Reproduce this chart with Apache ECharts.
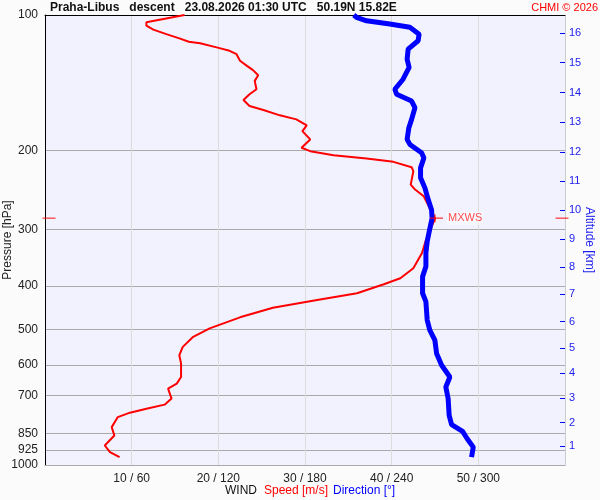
<!DOCTYPE html>
<html>
<head>
<meta charset="utf-8">
<script src="https://cdn.jsdelivr.net/npm/echarts@6/dist/echarts.min.js"></script>
<style>html,body{margin:0;padding:0;background:#fbfbfb;}#c{width:600px;height:500px;}</style>
</head>
<body>
<div id="c"></div>
<script>
// Wind speed profile (m/s) vs pressure (hPa)
var speedPressure = [100,103.8,105.6,107.8,110.3,112.7,114.7,115.6,118.0,120.1,122.2,126.4,129.7,132.6,136.1,140.1,146.2,150.0,154.5,159.3,162.6,167.1,170.6,175.9,181.2,189.0,197.3,200.7,204.9,208.4,212.0,217.9,222.4,238.2,244.3,252.9,266.6,283.6,318.6,338.1,365.3,384.5,396.5,415.3,429.8,447.2,469.7,497.0,518.9,546.3,570.1,594.9,637.4,659.3,676.4,712.0,734.3,749.6,765.1,782.6,823.8,859.7,905.0,936.7,960.8];
var speedValues   = [16.1,11.7,11.7,12.5,14.0,15.5,16.6,17.9,19.8,21.3,22.1,22.5,23.3,24.0,24.6,24.2,24.4,23.6,22.9,23.6,25.2,27.1,29.0,30.2,29.7,30.6,29.6,30.6,33.3,37.1,40.2,42.3,42.5,42.2,42.7,43.7,44.3,45.0,43.9,43.5,42.5,41.0,39.1,36.0,31.4,26.3,22.5,19.0,17.1,15.9,15.5,15.7,15.7,15.2,14.2,14.6,13.8,11.7,9.8,8.4,7.7,8.0,6.9,7.5,8.6];
// Wind direction profile (deg) vs pressure (hPa)
var dirPressure = [100,101.2,103.0,104.7,106.5,110.3,114.1,119.1,125.4,130.8,138.9,146.2,150.0,155.3,160.7,170.6,178.0,189.0,193.9,202.4,207.7,218.6,230.1,242.2,257.2,270.8,282.6,302.7,318.6,338.1,362.3,381.4,415.3,433.6,476.3,501.4,527.8,565.1,600.1,637.4,670.9,712.0,775.8,813.7,842.2,874.3,912.6,960.8];
var dirValues   = [213.8,215.7,222.6,238.7,252.6,259.0,258.3,251.4,250.7,252.1,247.9,242.2,243.4,253.8,256.1,253.8,251.9,250.7,252.6,260.7,262.3,260.0,260.0,263.0,265.3,267.6,268.0,266.0,264.6,263.7,263.7,261.4,261.4,263.7,264.6,266.4,269.9,271.1,274.6,280.3,277.5,279.1,279.8,281.5,289.1,292.3,296.5,295.3];
// Max wind
var mxwsSpeed = 45.0;
var mxwsPressure = 282.8;
// Axis ticks
var pressureTicks = [100,200,300,400,500,600,700,850,925,1000];
var speedTickLabels = ['10 / 60','20 / 120','30 / 180','40 / 240','50 / 300'];
var speedTickValues = [10,20,30,40,50];
var altLabels = ['1','2','3','4','5','6','7','8','9','10','11','12','13','14','15','16'];
var altPressures = [909.5,805.3,709.8,624.3,549.0,480.3,417.4,363.4,314.7,271.8,234.1,201.4,172.9,148.7,127.5,109.7];

function zip(a, b) { return a.map(function (v, i) { return [v, b[i]]; }); }

var chart = echarts.init(document.getElementById('c'), null, {renderer: 'canvas'});
var FONT = 'Liberation Sans, Arial, sans-serif';
var option = {
  backgroundColor: '#fbfbfb',
  animation: false,
  textStyle: {fontFamily: FONT},
  grid: {left: 45, right: 35, top: 15, bottom: 35, show: true, backgroundColor: '#f2f2ff', borderWidth: 0,
    containLabel: false, outerBoundsMode: 'none'},
  xAxis: [{
    type: 'value', min: 0, max: 60, interval: 10, position: 'bottom',
    axisLine: {show: true, lineStyle: {color: '#aaaaaa', width: 1}},
    axisTick: {show: false},
    splitLine: {show: true, lineStyle: {color: '#dcdcdc', width: 1}},
    axisLabel: {
      show: true, color: '#222', fontSize: 12, margin: 8, fontFamily: FONT,
      showMinLabel: false, showMaxLabel: false,
      formatter: function (v) { var i = speedTickValues.indexOf(v); return i >= 0 ? speedTickLabels[i] : ''; }
    }
  }, {
    type: 'value', min: 0, max: 360, position: 'top',
    axisLine: {show: true, onZero: false, lineStyle: {color: '#000', width: 1}},
    axisTick: {show: false}, axisLabel: {show: false}, splitLine: {show: false}
  }],
  yAxis: [{
    type: 'log', logBase: 10, min: 100, max: 1000, inverse: true, position: 'left',
    name: 'Pressure [hPa]', nameLocation: 'middle', nameGap: 31, nameRotate: 90, nameMoveOverlap: false,
    nameTextStyle: {color: '#222', fontSize: 12, fontFamily: FONT},
    axisLine: {show: true, onZero: false, lineStyle: {color: '#000', width: 1}},
    axisTick: {show: false, customValues: pressureTicks},
    splitLine: {show: true, lineStyle: {color: '#aaaaaa', width: 1}},
    axisLabel: {show: true, customValues: pressureTicks, color: '#222', fontSize: 12, margin: 7, fontFamily: FONT,
      formatter: function (v) { return String(Math.round(v)); }}
  }, {
    type: 'log', logBase: 10, min: 100, max: 1000, inverse: true, position: 'right',
    name: 'Altitude [km]', nameLocation: 'middle', nameGap: 18, nameRotate: -90, nameMoveOverlap: false,
    nameTextStyle: {color: '#2020ee', fontSize: 12, fontFamily: FONT},
    axisLine: {show: true, onZero: false, lineStyle: {color: '#cccccc', width: 1}},
    axisTick: {show: true, inside: true, length: 5, customValues: altPressures, lineStyle: {color: '#0000ff', width: 1}},
    splitLine: {show: false},
    axisLabel: {show: true, customValues: altPressures, color: '#2020ee', fontSize: 11, margin: 4, fontFamily: FONT,
      formatter: function (v) {
        for (var i = 0; i < altPressures.length; i++) { if (Math.abs(altPressures[i] - v) < 0.5) return altLabels[i]; }
        return '';
      }}
  }],
  series: [{
    name: 'Speed', type: 'line', xAxisIndex: 0, yAxisIndex: 0, data: zip(speedValues, speedPressure),
    showSymbol: false, smooth: false, lineStyle: {color: '#ff0000', width: 2}, itemStyle: {color: '#ff0000'}, z: 2, clip: true
  }, {
    name: 'Direction', type: 'line', xAxisIndex: 1, yAxisIndex: 0, data: zip(dirValues, dirPressure),
    showSymbol: false, smooth: false, lineStyle: {color: '#0000ff', width: 5}, itemStyle: {color: '#0000ff'}, z: 3, clip: true
  }, {
    name: 'MXWS', type: 'scatter', xAxisIndex: 0, yAxisIndex: 0, data: [[mxwsSpeed, mxwsPressure]],
    symbol: 'path://M0 3.4 H13 V4.6 H0 Z M4.4 0 H5.6 V8 H4.4 Z', symbolSize: [13, 8], symbolKeepAspect: false,
    symbolOffset: [1.5, 0], itemStyle: {color: '#ff0000'}, z: 5, silent: true,
    label: {show: true, position: 'right', distance: 4, formatter: 'MXWS', color: '#ff2020', fontSize: 11, fontFamily: FONT,
      backgroundColor: 'rgba(255,255,255,0.6)', padding: [1, 1]}
  }, {
    name: 'MXWSaxis', type: 'scatter', xAxisIndex: 0, yAxisIndex: 0, clip: false, silent: true,
    data: [{value: [0, mxwsPressure], symbolOffset: [4, 0]}, {value: [60, mxwsPressure], symbolOffset: [-3, 0]}],
    symbol: 'rect', symbolSize: [13, 1.2], itemStyle: {color: '#ff0000'}, z: 6
  }],
  graphic: [{
    type: 'text', left: 50, top: 2,
    style: {text: 'Praha-Libus   descent   23.08.2026 01:30 UTC   50.19N 15.82E', fill: '#111', font: 'bold 12px ' + FONT}
  }, {
    type: 'text', right: 2, top: 2,
    style: {text: 'CHMI \u00a9 2026', fill: '#ff0000', font: '11px ' + FONT}
  }, {
    type: 'text', left: 225, top: 485,
    style: {text: 'WIND', fill: '#111', font: '12px ' + FONT}
  }, {
    type: 'text', left: 264, top: 485,
    style: {text: 'Speed [m/s]', fill: '#ff0000', font: '12px ' + FONT}
  }, {
    type: 'text', left: 333, top: 485,
    style: {text: 'Direction [\u00b0]', fill: '#0000ff', font: '12px ' + FONT}
  }]
};
chart.setOption(option);
</script>
</body>
</html>
